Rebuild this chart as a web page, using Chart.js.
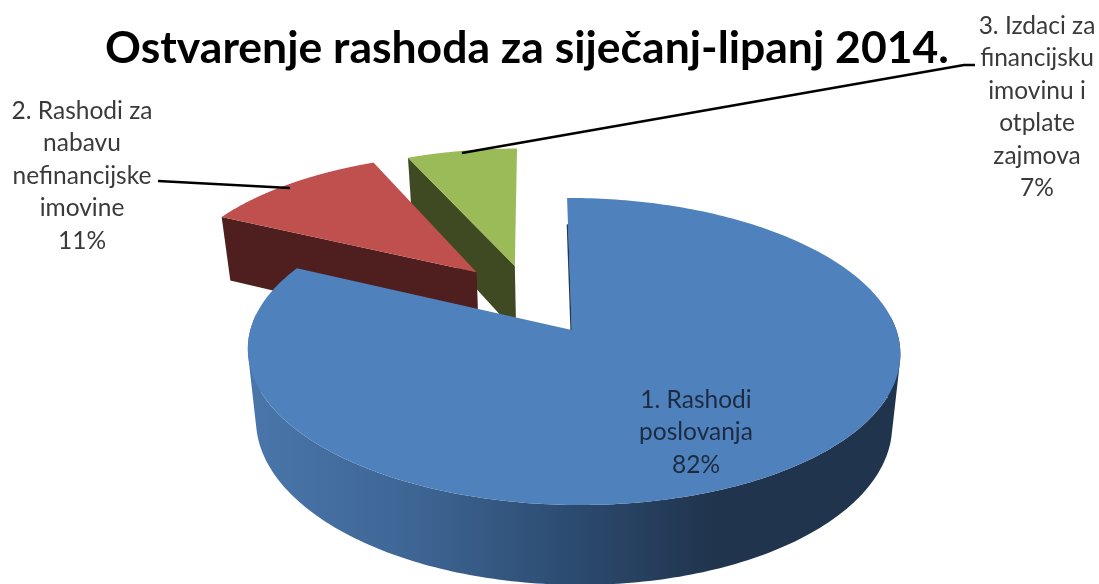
<!DOCTYPE html>
<html>
<head>
<meta charset="utf-8">
<script src="https://cdn.jsdelivr.net/npm/chart.js@4"></script>
<style>
html,body{margin:0;padding:0;background:#fff;overflow:hidden}
canvas{display:block}
</style>
</head>
<body>
<canvas id="c" width="1099" height="584"></canvas>
<script>
const chartTitle = 'Ostvarenje rashoda za siječanj-lipanj 2014.';
const categories = ['1. Rashodi poslovanja', '2. Rashodi za nabavu nefinancijske imovine', '3. Izdaci za financijsku imovinu i otplate zajmova'];
const categoryLines = [
  ['1. Rashodi', 'poslovanja'],
  ['2. Rashodi za', 'nabavu', 'nefinancijske', 'imovine'],
  ['3. Izdaci za', 'financijsku', 'imovinu i', 'otplate', 'zajmova']
];
const shares = [82.2, 11.2, 6.6];
const sliceColors = ['#4F81BD', '#C0504D', '#9BBB59'];
const faceColors = ['#1F3A5C', '#4E1F1E', '#3F4A22'];

// Exploded slice displacement on the unit disc, and the perspective of the 3D view
const explode = [[0, 0], [-0.305, -0.407], [-0.18, -0.452]];
const view = { cx: 571.7, k: 0.14, m: 0.005, b: 323, skew: 5.3, topY: 330, topA: 150.5, botY: 400, botA: 159, botB: 0.975 };
const labelSpots = [
  { x: 696, y: 400 }, { x: 82, y: 111 }, { x: 1037, y: 26 }
];
const leaders = [
  null,
  [[158, 181], [290, 188]],
  [[975, 65], [964, 65], [462, 153]]
];

function proj(u, v, bottom) {
  const d = 1 - view.k * v - view.m * u;
  const b = bottom ? view.b * view.botB : view.b;
  return {
    x: view.cx + (b * u + view.skew * v) / d,
    y: (bottom ? view.botY : view.topY) + (bottom ? view.botA : view.topA) * v / d
  };
}
function outer(a, i, bottom) {
  return proj(Math.cos(a) + explode[i][0], Math.sin(a) + explode[i][1], bottom);
}
function apex(i, bottom) { return proj(explode[i][0], explode[i][1], bottom); }
function trace(ctx, pts) {
  ctx.beginPath();
  pts.forEach((p, n) => n ? ctx.lineTo(p.x, p.y) : ctx.moveTo(p.x, p.y));
  ctx.closePath();
}
function arcPts(s, e, i, bottom) {
  const pts = [], N = 300;
  for (let n = 0; n <= N; n++) pts.push(outer(s + (e - s) * n / N, i, bottom));
  return pts;
}
function area(q) {
  let A = 0;
  q.forEach((p, n) => { const r = q[(n + 1) % q.length]; A += p.x * r.y - r.x * p.y; });
  return A;
}

const pie3d = {
  id: 'pie3d',
  beforeDatasetsDraw(chart) {
    const ctx = chart.ctx;
    const arcs = chart.getDatasetMeta(0).data;
    ctx.save();
    for (let i = arcs.length - 1; i >= 0; i--) {
      const { startAngle: s, endAngle: e } = arcs[i];
      if (i === 0) {
        const g = ctx.createLinearGradient(248, 0, 895, 0);
        g.addColorStop(0, '#4A76AB');
        g.addColorStop(0.25, '#3E6695');
        g.addColorStop(0.5, '#2C4B70');
        g.addColorStop(0.72, '#20344D');
        g.addColorStop(1, '#20344D');
        const up = arcPts(s, e, i, false), low = arcPts(s, e, i, true);
        ctx.beginPath();
        for (let n = 0; n < up.length - 1; n++) {
          // only the front of the wall shows; the back lies under the top face
          if (Math.sin(s + (e - s) * n / (up.length - 1)) < -0.1) continue;
          let q = [up[n], up[n + 1], low[n + 1], low[n]];
          if (area(q) < 0) q = q.reverse();
          q.forEach((p, j) => j ? ctx.lineTo(p.x, p.y) : ctx.moveTo(p.x, p.y));
          ctx.closePath();
        }
        ctx.fillStyle = g;
        ctx.fill('nonzero');
      } else {
        trace(ctx, [outer(s, i, false), apex(i, false), apex(i, true), outer(s, i, true)]);
        ctx.fillStyle = faceColors[i];
        ctx.fill();
      }
      trace(ctx, [apex(i, false)].concat(arcPts(s, e, i, false)));
      ctx.fillStyle = sliceColors[i];
      ctx.fill();
      if (i === 0) {
        const o = outer(s, i, false), c = apex(i, false);
        ctx.beginPath();
        ctx.moveTo(o.x + (c.x - o.x) * 0.2 - 0.6, o.y + (c.y - o.y) * 0.2);
        ctx.lineTo(c.x - 0.6, c.y);
        ctx.strokeStyle = faceColors[0];
        ctx.lineWidth = 1.4;
        ctx.stroke();
      }
    }
    ctx.restore();
    return false;
  },
  afterDraw(chart) {
    const ctx = chart.ctx;
    ctx.save();
    ctx.strokeStyle = '#000';
    ctx.lineWidth = 2.4;
    ctx.lineJoin = 'round';
    leaders.forEach(l => {
      if (!l) return;
      ctx.beginPath();
      l.forEach((p, n) => n ? ctx.lineTo(p[0], p[1]) : ctx.moveTo(p[0], p[1]));
      ctx.stroke();
    });
    ctx.font = '24.5px Lato';
    ctx.textAlign = 'center';
    ctx.textBaseline = 'middle';
    const total = shares.reduce((a, b) => a + b, 0);
    categoryLines.forEach((lines, i) => {
      const all = lines.concat(Math.round(shares[i] / total * 100) + '%');
      ctx.fillStyle = i === 0 ? '#1C2B40' : '#3A3A3A';
      all.forEach((t, n) => ctx.fillText(t, labelSpots[i].x, labelSpots[i].y + n * 32.5));
    });
    ctx.restore();
  }
};

new Chart(document.getElementById('c'), {
  type: 'pie',
  data: {
    labels: categories,
    datasets: [{ data: shares, backgroundColor: sliceColors, borderWidth: 0 }]
  },
  options: {
    responsive: false,
    animation: false,
    events: [],
    layout: { padding: { right: 45 } },
    plugins: {
      legend: { display: false },
      tooltip: { enabled: false },
      title: {
        display: true,
        text: chartTitle,
        color: '#000',
        font: { family: 'Lato', size: 44.5, weight: 'bold' },
        padding: { top: 22, bottom: 10 }
      }
    }
  },
  plugins: [pie3d]
});
</script>
</body>
</html>
